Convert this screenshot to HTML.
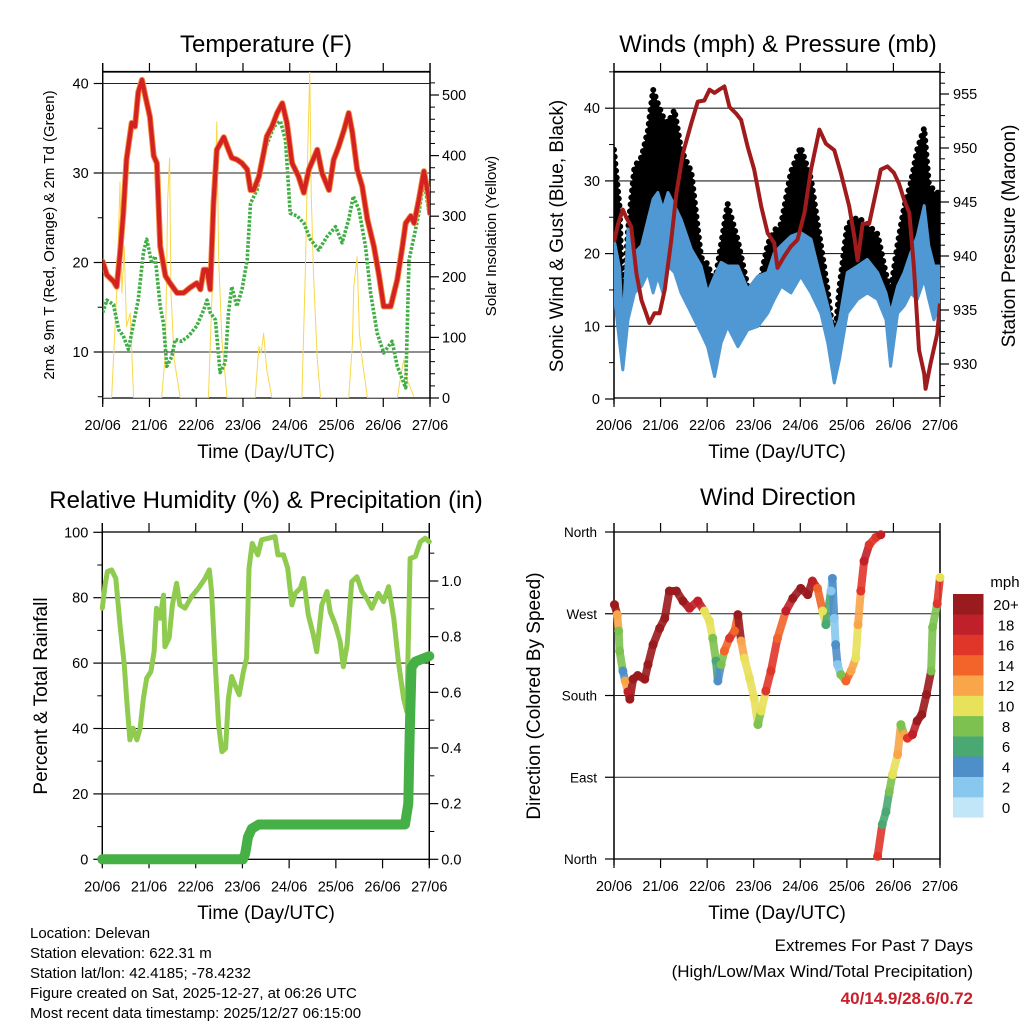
<!DOCTYPE html>
<html><head><meta charset="utf-8">
<style>
html,body{margin:0;padding:0;background:#fff;}
svg{display:block;font-family:"Liberation Sans",Arial,sans-serif;}
</style></head>
<body>
<svg id="fig" width="1024" height="1024" viewBox="0 0 1024 1024" xmlns="http://www.w3.org/2000/svg">
<rect x="0" y="0" width="1024" height="1024" fill="#fff"/>
<text x="266" y="52" font-size="24" text-anchor="middle">Temperature (F)</text>
<text x="778" y="52" font-size="24" text-anchor="middle">Winds (mph) &amp; Pressure (mb)</text>
<text x="266" y="508" font-size="24" text-anchor="middle">Relative Humidity (%) &amp; Precipitation (in)</text>
<text x="778" y="505" font-size="24" text-anchor="middle">Wind Direction</text>
<text transform="translate(54,235) rotate(-90)" font-size="15" text-anchor="middle">2m &amp; 9m T (Red, Orange) &amp; 2m Td (Green)</text>
<text transform="translate(496,236) rotate(-90)" font-size="15" text-anchor="middle">Solar Insolation (Yellow)</text>
<text transform="translate(563,236) rotate(-90)" font-size="19" text-anchor="middle">Sonic Wind &amp; Gust (Blue, Black)</text>
<text transform="translate(1015,236) rotate(-90)" font-size="19" text-anchor="middle">Station Pressure (Maroon)</text>
<text transform="translate(47,696) rotate(-90)" font-size="19" text-anchor="middle">Percent &amp; Total Rainfall</text>
<text transform="translate(540,696) rotate(-90)" font-size="19" text-anchor="middle">Direction (Colored By Speed)</text>
<text x="266" y="458" font-size="19" text-anchor="middle">Time (Day/UTC)</text>
<text x="777" y="458" font-size="19" text-anchor="middle">Time (Day/UTC)</text>
<text x="266" y="919" font-size="19" text-anchor="middle">Time (Day/UTC)</text>
<text x="777" y="919" font-size="19" text-anchor="middle">Time (Day/UTC)</text>
<g font-size="15">
<text x="30" y="938">Location: Delevan</text>
<text x="30" y="958">Station elevation: 622.31 m</text>
<text x="30" y="978">Station lat/lon: 42.4185; -78.4232</text>
<text x="30" y="998">Figure created on Sat, 2025-12-27, at 06:26 UTC</text>
<text x="30" y="1018">Most recent data timestamp: 2025/12/27 06:15:00</text>
</g>
<text x="973" y="951" font-size="17" text-anchor="end">Extremes For Past 7 Days</text>
<text x="973" y="977" font-size="17" text-anchor="end">(High/Low/Max Wind/Total Precipitation)</text>
<text x="973" y="1004" font-size="17" font-weight="bold" fill="#c8202a" text-anchor="end">40/14.9/28.6/0.72</text>
<defs>
<clipPath id="c1"><rect x="102.7" y="72" width="327.3" height="326"/></clipPath>
<clipPath id="c2"><rect x="614" y="72" width="326" height="326"/></clipPath>
<clipPath id="c3"><rect x="90" y="520" width="352" height="352"/></clipPath>
<clipPath id="c4"><rect x="600" y="525" width="350" height="340"/></clipPath>
</defs>
</svg>
<script>
// ---------- Temperature panel data ----------
const tempDays = [0,0.09,0.23,0.30,0.37,0.44,0.51,0.62,0.69,0.76,0.84,0.91,1.01,1.09,1.16,1.23,1.34,1.44,1.59,1.73,1.87,2.01,2.09,2.16,2.23,2.30,2.37,2.44,2.59,2.69,2.76,2.87,2.98,3.09,3.16,3.23,3.34,3.44,3.51,3.62,3.73,3.84,3.94,4.05,4.19,4.30,4.41,4.59,4.69,4.84,4.94,5.05,5.16,5.26,5.34,5.44,5.55,5.66,5.80,5.91,6.01,6.16,6.30,6.41,6.48,6.59,6.66,6.76,6.87,6.98,7.0];
const temp2m = [20.1,18.6,17.9,17.3,21,25.5,31.5,35.6,35.2,39,40.4,38.6,36.3,31.9,31.1,21.8,18.5,17.7,16.6,16.6,17.2,17.7,17,19.2,19.2,17,26.6,32.6,34,32.6,31.7,31.5,31.1,30.4,28.1,28.1,29.6,32.2,34.1,35.2,36.7,37.8,35.6,31.1,29.6,27.8,30.4,32.6,30,28.1,31.5,33,34.8,36.7,34.5,30.4,28.5,24.8,21.8,18.5,15.1,15.1,18.1,21.8,24.4,25.2,24.4,27,30.2,27,25.5];
const dewDays = [0,0.09,0.23,0.34,0.44,0.55,0.66,0.76,0.87,0.94,1.05,1.12,1.23,1.30,1.37,1.48,1.55,1.69,1.84,2.01,2.16,2.23,2.30,2.41,2.51,2.62,2.69,2.76,2.87,2.98,3.09,3.16,3.30,3.44,3.66,3.80,3.91,4.01,4.16,4.30,4.44,4.62,4.80,4.98,5.12,5.26,5.36,5.48,5.62,5.73,5.87,6.01,6.19,6.30,6.48,6.55,6.66,6.76,6.87,6.98];
const dew2m = [14.4,15.8,15.3,12.5,11.8,10.3,13.2,15.8,21.1,22.6,19.9,20.7,15.1,13.2,8.4,9.5,11.4,11.2,11.8,12.9,14.7,15.8,14.4,13.6,7.7,8.8,14.4,17.3,15.1,17,20.3,26.6,28.1,32.2,35.2,35.8,33.7,25.5,25.2,24.4,22.6,21.4,22.9,24,22.2,24.8,27.4,25.9,21.8,16.6,12.1,9.9,11.2,8.4,6,20.3,22.9,25.5,29.3,25.5];
const solarDays = [0,0.19,0.30,0.37,0.41,0.46,0.51,0.59,0.66,1.26,1.34,1.39,1.43,1.46,1.53,1.66,2.26,2.34,2.39,2.44,2.48,2.55,2.66,3.26,3.34,3.39,3.44,3.51,3.62,4.26,4.34,4.39,4.43,4.46,4.51,4.59,4.66,5.26,5.34,5.37,5.44,5.49,5.55,5.66,6.30,6.37,6.44,6.51,6.66];
const solar = [0,0,173,357,173,250,118,140,0,0,74,327,396,173,63,0,0,173,310,456,228,96,0,0,85,74,107,46,0,0,228,426,540,338,200,63,0,0,90,184,233,107,63,0,0,35,63,30,2];
const tempTicks = [10,20,30,40];
const solarTicks = [0,100,200,300,400,500];
// ---------- Wind panel data ----------
const windDays = [0,0.12,0.19,0.3,0.44,0.59,0.73,0.84,0.94,1.05,1.16,1.3,1.44,1.66,1.87,2.01,2.16,2.3,2.44,2.66,2.87,3.09,3.3,3.44,3.59,3.8,4.01,4.23,4.44,4.59,4.73,4.84,5.01,5.23,5.44,5.66,5.84,5.94,6.09,6.23,6.37,6.51,6.66,6.76,6.87,6.98];
const sonicLow = [14.6,7.7,4,10.9,14.6,15.5,17.4,14.6,16.9,14.6,18.3,17.4,14.6,11.8,9.1,7.2,3.1,7.7,10,7.2,9.5,10,11.8,13.7,15.5,14.6,16.9,14.6,11.8,7.7,2.2,5.4,11.8,13.7,14.6,13.7,10.9,4.5,11.8,12.8,14.6,13.7,16.5,13.7,10.9,12.8];
const sonicHigh = [22,18,10,23.4,20.1,21.1,24.7,27.5,28.4,26.1,28.4,26.6,24.7,20.6,18.3,14.6,16.9,18.8,18.3,18.3,15.1,16.9,17.4,20.1,21.1,22.4,22.9,22,16.5,12.8,9.1,10.9,17.4,18.3,19.2,17.4,14.6,11.8,15.5,17.4,20.1,22.4,26.6,21.1,18.3,18.3];
const gustHigh = [34,26.1,12,22.9,31.7,33,36.7,42.3,40.4,38.6,37.7,39.5,34,31,19.2,18.3,15.5,21,26.6,21.5,15.1,14.6,21,22.9,23.8,31,34.4,30,21,14.6,7.2,15,23.8,24.7,23.8,22.4,16.9,14.6,21,26.1,29.4,34,37,29.4,28.4,28];
const presDays = [0,0.09,0.19,0.26,0.37,0.48,0.59,0.69,0.76,0.87,0.98,1.09,1.23,1.34,1.48,1.66,1.80,1.94,2.05,2.16,2.26,2.37,2.48,2.62,2.73,2.87,3.01,3.16,3.30,3.44,3.51,3.66,3.80,3.94,4.09,4.23,4.41,4.55,4.73,4.87,5.05,5.16,5.23,5.34,5.48,5.59,5.73,5.87,6.01,6.12,6.23,6.34,6.44,6.55,6.66,6.69,6.80,6.94,7.0];
const pressure = [941.3,943.0,944.3,943.6,942.7,938.4,935.9,934.7,933.8,934.7,934.7,936.9,941.5,945.8,949.5,952.3,954.3,954.4,955.4,955.1,955.4,955.7,953.8,953.2,952.6,950.1,948.0,944.6,942.1,941.2,938.9,940.0,940.9,941.5,944.0,948.0,951.7,950.4,949.8,947.7,944.6,941.8,939.6,943.0,943.0,945.2,948.0,948.3,947.7,946.7,945.2,944.0,939.0,931.3,929.1,927.7,930.1,932.8,935.6];
const windTicks = [0,10,20,30,40];
const presTicks = [930,935,940,945,950,955];
// ---------- Humidity panel data ----------
const rhDays = [0,0.06,0.11,0.2,0.29,0.38,0.47,0.52,0.59,0.66,0.74,0.81,0.88,0.95,1.04,1.11,1.16,1.24,1.31,1.34,1.43,1.5,1.59,1.66,1.77,1.91,2.06,2.2,2.29,2.34,2.41,2.49,2.56,2.64,2.7,2.77,2.84,2.93,3.02,3.09,3.14,3.21,3.33,3.41,3.56,3.7,3.76,3.88,3.97,4.06,4.13,4.24,4.31,4.41,4.52,4.59,4.7,4.81,4.88,4.99,5.09,5.16,5.24,5.34,5.45,5.56,5.66,5.77,5.91,6.02,6.13,6.24,6.34,6.45,6.52,6.59,6.7,6.81,6.91,7];
const rh = [76.8,83.9,88,88.5,85.9,71.7,59.4,49.2,36.5,40.1,36.5,40.1,49.2,55.4,57.4,63.5,76.8,73.7,80.8,65,67.6,77.8,84.4,77.8,76.8,80.3,82.9,85.9,88.5,81.9,61.5,41.1,32.9,33.9,49.2,55.9,53.3,50.3,57.4,61.5,89,96.6,93.1,97.7,98.2,98.7,93.1,93.1,89,77.8,81.3,82.9,85.9,74.7,68.6,63.5,77.8,81.9,75.7,71.7,66.6,58.9,65.5,84.9,86.4,81.9,79.8,76.8,81.3,78.8,83.4,73.7,60.4,49.2,45.2,92,92.6,97.1,98.2,97.1];
const precipDays = [0,3.01,3.06,3.12,3.2,3.35,6.48,6.55,6.58,6.62,6.7,6.85,7];
const precip = [0,0,0.02,0.08,0.11,0.125,0.125,0.2,0.45,0.69,0.71,0.72,0.73];
const rhTicks = [0,20,40,60,80,100];
const precipTicks = ["0.0","0.2","0.4","0.6","0.8","1.0"];
// ---------- Wind direction panel data ----------
const dirDays = [0.01,0.07,0.1,0.12,0.19,0.24,0.3,0.34,0.41,0.51,0.66,0.73,0.84,0.98,1.09,1.19,1.34,1.48,1.62,1.8,1.94,2.05,2.12,2.19,2.23,2.3,2.37,2.48,2.59,2.66,2.73,2.8,2.91,3.01,3.09,3.16,3.26,3.37,3.51,3.69,3.84,4.01,4.16,4.26,4.37,4.48,4.55,4.66,4.69,4.73,4.76,4.8,4.87,4.98,5.09,5.19,5.24,5.3,5.37,5.48,5.62,5.73,5.66,5.76,5.84,5.91,5.98,6.09,6.16,6.23,6.3,6.41,6.51,6.61,6.71,6.81,6.84,6.94,7.0];
const dirDeg = [280,269,251,229,207,196,184,176,198,202,198,214,236,254,265,295,295,284,276,284,273,262,243,218,196,214,229,243,251,269,240,221,199,177,148,163,185,207,243,273,287,298,291,306,298,273,258,295,309,265,236,214,203,196,207,221,258,295,328,346,354,357,3,38,52,74,93,115,148,137,133,137,152,159,181,207,255,281,310];
const dirSpeed = [20,12,8,8,4,12,18,20,20,20,20,20,20,20,20,20,20,20,18,18,10,10,8,6,4,8,14,16,14,20,12,10,10,10,8,10,16,16,14,18,20,20,20,18,14,10,6,2,4,2,4,2,8,14,12,10,12,16,18,16,16,18,16,6,6,8,10,12,8,12,16,18,20,20,20,8,8,16,10];
const dirTicks = ["North","East","South","West","North"];
const speedLabels = ["0","2","4","6","8","10","12","14","16","18","20+"];
const speedColors = ["#c0e6f8","#88c8ee","#4e8fc9","#4aa872","#7dc250","#e8e15a","#f9a54a","#f26429","#e0362a","#c0202a","#9a1b1e"];
const dayLabels = ["20/06","21/06","22/06","23/06","24/06","25/06","26/06","27/06"];

// ---------- scales ----------
const x1 = d => 102.7 + d*46.76;
const yT = v => 352 - (v-10)*8.95;
const yS = s => 398 - s*0.606;
const x2 = d => 614 + d*46.57;
const yW = v => 399 - v*7.27;
const yP = p => 94 + (955-p)*10.8;
const x3 = d => 102.3 + d*46.71;
const yRH = v => 859.3 - v*3.27;
const yPr = p => 859.3 - p*278.3;
const x4 = d => 614 + d*46.57;
const yD = deg => 859 - deg*(327/360);

const NS = "http://www.w3.org/2000/svg";
const svg = document.getElementById("fig");
function mk(tag, attrs, parent){
  const e = document.createElementNS(NS, tag);
  for (const k in attrs) e.setAttribute(k, attrs[k]);
  (parent||svg).appendChild(e);
  return e;
}
function pathD(xs, ys, fx, fy){
  return xs.map((d,i)=>(i?"L":"M")+fx(d).toFixed(1)+","+fy(ys[i]).toFixed(1)).join("");
}
function group(clip){
  return mk("g", clip?{"clip-path":"url(#"+clip+")"}:{});
}
function line(x1_,y1_,x2_,y2_,stroke,w,parent){
  return mk("line",{x1:x1_,y1:y1_,x2:x2_,y2:y2_,stroke:stroke,"stroke-width":w},parent);
}
function txt(x,y,s,anchor,size,parent){
  const t = mk("text",{x:x,y:y,"font-size":size,"text-anchor":anchor},parent);
  t.textContent = s;
  return t;
}

function frame(name, L, R, T, B, fx){
  const g = mk("g",{});
  
  
  const r = mk("rect",{x:L,y:T,width:R-L,height:B-T,fill:"none",stroke:"#000","stroke-width":1.3},g);
  
  
  line(L,T-9,L,B+6,"#000",1.3,g);
  line(R,T-9,R,B+6,"#000",1.3,g);
  dayLabels.forEach((lab,i)=>{
    const x = fx(i);
    line(x,B,x,B+9,"#000",1.2,g);
    line(x,T,x,T-9,"#000",1.2,g);
    const t = txt(x, B+32, lab, "middle", 14.5, g);
    
    
  });
  return g;
}
function hgrid(y, L, R, g){ line(L,y,R,y,"#222",1.1,g); }

// ================= Panel 1 =================
{
  const L=102.7,R=430,T=72,B=398;
  const g = frame("temperature", L, R, T, B, x1);
  line(L,71.5,R,71.5,"#000",1.2,g);
  tempTicks.forEach(v=>{ const y=yT(v); hgrid(y,L,R,g); line(L-9,y,L,y,"#000",1.2,g);
    const t=txt(L-14,y+5,String(v),"end",14.5,g);
    
     });
  [5,15,25,35].forEach(v=>line(L-5,yT(v),L,yT(v),"#000",1,g));
  solarTicks.forEach(s=>{ const y=yS(s); line(R,y,R+9,y,"#000",1.2,g);
    const t=txt(R+12,y+5,String(s),"start",14.5,g);
    
     });
  for(let s=20;s<=520;s+=20){ if(s%100) line(R,yS(s),R+5,yS(s),"#000",1,g); }
  const c = group("c1");
  const ps = mk("path",{d:pathD(solarDays,solar,x1,yS),fill:"none",stroke:"#f7d84a","stroke-width":1,"stroke-linejoin":"round"},c);
  
  
  const pd = mk("path",{d:pathD(dewDays,dew2m,x1,yT),fill:"none",stroke:"#40ad45","stroke-width":3.6,"stroke-dasharray":"2.6 1.6","stroke-linejoin":"round"},c);
  
  
  const po = mk("path",{d:pathD(tempDays,temp2m,x1,yT),fill:"none",stroke:"#f08a3c","stroke-width":6,"stroke-linejoin":"round","stroke-linecap":"round"},c);
  
  
  const pr = mk("path",{d:pathD(tempDays,temp2m,x1,yT),fill:"none",stroke:"#d42222","stroke-width":4.2,"stroke-linejoin":"round","stroke-linecap":"round"},c);
  
  
}

// ================= Panel 2 =================
{
  const L=614,R=940,T=72,B=398;
  const g = frame("winds", L, R, T, B, x2);
  line(L,71.5,R,71.5,"#000",1.2,g);
  windTicks.forEach(v=>{ const y=yW(v); if(v>0) hgrid(y,L,R,g); line(L-9,y,L,y,"#000",1.2,g);
    const t=txt(L-14,y+5,String(v),"end",14.5,g);
    
     });
  [5,15,25,35,45].forEach(v=>line(L-5,yW(v),L,yW(v),"#000",1,g));
  presTicks.forEach(p=>{ const y=yP(p); line(R,y,R+9,y,"#000",1.2,g);
    const t=txt(R+13,y+5,String(p),"start",14.5,g);
    
     });
  for(let p=927;p<=957;p++){ if(p%5) line(R,yP(p),R+5,yP(p),"#000",1,g); }
  const c = group("c2");
  const top = windDays.map((d,i)=>(i?"L":"M")+x2(d).toFixed(1)+","+yW(gustHigh[i]).toFixed(1)).join("");
  const bot = windDays.slice().reverse().map((d,k)=>{const i=windDays.length-1-k; return "L"+x2(d).toFixed(1)+","+yW(sonicLow[i]).toFixed(1);}).join("");
  const ga = mk("path",{d:top+bot+"Z",fill:"#000",stroke:"#000","stroke-width":2,"stroke-linejoin":"round"},c);
  
  
  const ga2 = mk("path",{d:pathD(windDays,gustHigh,x2,yW),fill:"none",stroke:"#000","stroke-width":6,"stroke-dasharray":"0 7","stroke-linecap":"round",transform:"translate(0,-2)"},c);
  
  
  const st = windDays.map((d,i)=>(i?"L":"M")+x2(d).toFixed(1)+","+yW(sonicHigh[i]).toFixed(1)).join("");
  const sb = windDays.slice().reverse().map((d,k)=>{const i=windDays.length-1-k; return "L"+x2(d).toFixed(1)+","+yW(sonicLow[i]).toFixed(1);}).join("");
  const sa = mk("path",{d:st+sb+"Z",fill:"#4f98d3",stroke:"#4f98d3","stroke-width":3,"stroke-linejoin":"round"},c);
  
  
  const pp = mk("path",{d:pathD(presDays,pressure,x2,yP),fill:"none",stroke:"#a01c1c","stroke-width":4,"stroke-linejoin":"round"},c);
  
  
}

// ================= Panel 3 =================
{
  const L=102.3,R=429.3,T=532,B=859.3;
  const g = frame("humidity", L, R, T, B, x3);
  rhTicks.forEach(v=>{ const y=yRH(v); if(v>0&&v<100) hgrid(y,L,R,g); line(L-9,y,L,y,"#000",1.2,g);
    const t=txt(L-14,y+5,String(v),"end",14.5,g);
    
     });
  [10,30,50,70,90].forEach(v=>line(L-5,yRH(v),L,yRH(v),"#000",1,g));
  precipTicks.forEach(s=>{ const y=yPr(parseFloat(s)); line(R,y,R+9,y,"#000",1.2,g);
    const t=txt(R+12,y+5,s,"start",14.5,g);
    
     });
  [0.1,0.3,0.5,0.7,0.9,1.1].forEach(p=>line(R,yPr(p),R+5,yPr(p),"#000",1,g));
  const c = group("c3");
  const pr = mk("path",{d:pathD(rhDays,rh,x3,yRH),fill:"none",stroke:"#8fcb4f","stroke-width":5,"stroke-linejoin":"round","stroke-linecap":"round"},c);
  
  
  const pp = mk("path",{d:pathD(precipDays,precip,x3,yPr),fill:"none",stroke:"#45b046","stroke-width":10,"stroke-linejoin":"round","stroke-linecap":"round"},c);
  
  
}

// ================= Panel 4 =================
{
  const L=614,R=940,T=532,B=859;
  const g = frame("wind-direction", L, R, T, B, x4);
  dirTicks.forEach((lab,i)=>{ const y=yD(i*90); if(i>0&&i<4) hgrid(y,L,R,g); line(L-9,y,L,y,"#000",1.2,g);
    const t=txt(L-17,y+5,lab,"end",13.5,g);
    
     });
  const c = group("c4");
  const col = s => speedColors[Math.min(10, Math.floor(s/2))];
  for(let i=0;i<dirDays.length-1;i++){
    if(Math.abs(dirDeg[i+1]-dirDeg[i])>180) continue;
    const seg = line(x4(dirDays[i]),yD(dirDeg[i]),x4(dirDays[i+1]),yD(dirDeg[i+1]),col(dirSpeed[i]),8,c);
    seg.setAttribute("stroke-linecap","round");
    seg.setAttribute("opacity","0.9");
    
    
  }
  dirDays.forEach((d,i)=>{
    const p = mk("circle",{cx:x4(d),cy:yD(dirDeg[i]),r:4.5,fill:col(dirSpeed[i])},c);
    
    
  });
  const cb = mk("g",{});
  
  
  const mph = txt(1005,587,"mph","middle",15,cb);
  
  
  speedLabels.forEach((lab,i)=>{
    const y = 594 + (10-i)*20.3;
    const r = mk("rect",{x:953,y:y,width:30.5,height:20.6,fill:speedColors[i]},cb);
    
    
    const t = txt(1006,y+16,lab,"middle",15,cb);
    
    
  });
}
</script>
</body></html>
